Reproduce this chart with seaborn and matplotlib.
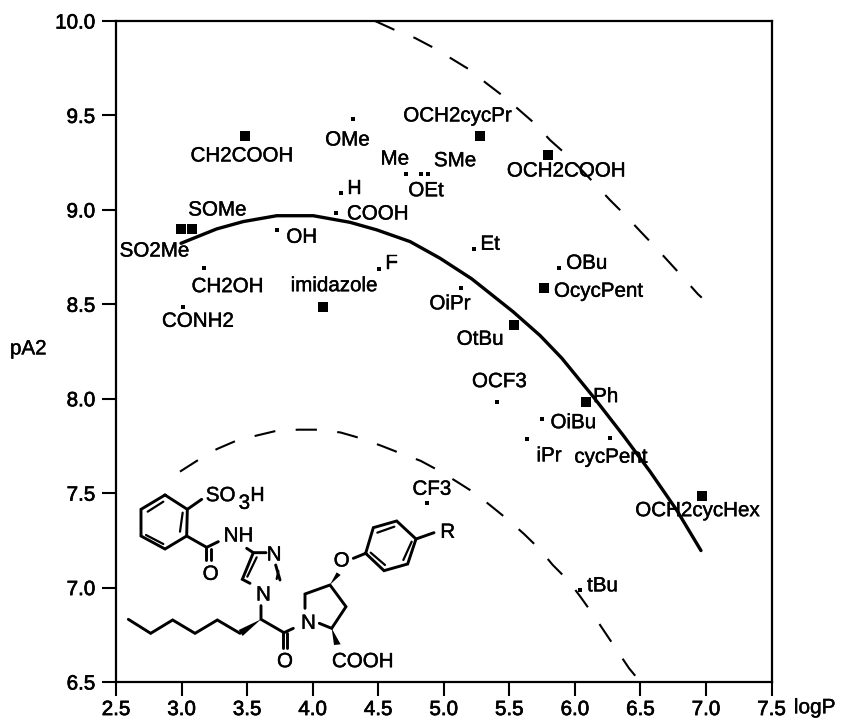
import pandas as pd
import matplotlib.pyplot as plt
import matplotlib.patheffects as pe
import seaborn as sns

# compounds drawn with the big squares
big_names = ['SO2Me', 'SOMe', 'CH2COOH', 'imidazole', 'OCH2cycPr', 'OCH2COOH',
             'OcycPent', 'OtBu', 'Ph', 'OCH2cycHex']
big_logp = [2.996, 3.077, 3.484, 4.08, 5.279, 5.798, 5.765, 5.536, 6.087, 6.967]
big_pa2 = [8.897, 8.897, 9.393, 8.484, 9.393, 9.292, 8.588, 8.392, 7.983, 7.485]

# compounds drawn with the small squares
small_names = ['OMe', 'H', 'COOH', 'Me', 'SMe', 'OEt', 'OH', 'CH2OH', 'CONH2', 'F',
               'Et', 'OBu', 'OiPr', 'OCF3', 'OiBu', 'iPr', 'cycPent', 'CF3', 'tBu']
small_logp = [4.31, 4.214, 4.178, 4.714, 4.826, 4.877, 3.728, 3.174, 3.011, 4.504,
              5.231, 5.879, 5.131, 5.406, 5.749, 5.635, 6.266, 4.875, 6.042]
small_pa2 = [9.481, 9.088, 8.985, 9.188, 9.188, 9.188, 8.895, 8.691, 8.484, 8.689,
             8.793, 8.692, 8.587, 7.983, 7.891, 7.789, 7.791, 7.448, 6.988]

# fit line and the two confidence curves
fit_logp = [2.996, 3.268, 3.471, 3.726, 4.005, 4.285, 4.489, 4.743, 4.971, 5.213, 5.53,
            5.734, 5.9, 6.141, 6.37, 6.573, 6.777, 6.962]
fit_pa2 = [8.823, 8.899, 8.938, 8.969, 8.969, 8.934, 8.894, 8.832, 8.744, 8.635, 8.46,
           8.335, 8.215, 8.01, 7.805, 7.615, 7.41, 7.196]
upper_logp = [4.476, 4.628, 4.781, 4.926, 5.063, 5.2, 5.322, 5.452, 5.582, 5.701, 5.81,
              5.93, 6.052, 6.159, 6.268, 6.388, 6.497, 6.611, 6.718, 6.827, 6.937, 6.968]
upper_pa2 = [10.0, 9.952, 9.91, 9.857, 9.799, 9.741, 9.672, 9.603, 9.525, 9.453, 9.37,
             9.296, 9.211, 9.133, 9.052, 8.969, 8.888, 8.805, 8.724, 8.641, 8.555, 8.535]
lower_logp = [2.988, 3.128, 3.268, 3.415, 3.573, 3.73, 3.891, 4.048, 4.214, 4.369, 4.527,
              4.674, 4.824, 4.966, 5.099, 5.238, 5.366, 5.492, 5.612, 5.729, 5.831, 5.95,
              6.047, 6.141, 6.413, 6.476, 6.497]
lower_pa2 = [7.614, 7.676, 7.733, 7.777, 7.805, 7.831, 7.836, 7.836, 7.821, 7.79, 7.75,
             7.71, 7.671, 7.618, 7.561, 7.5, 7.429, 7.358, 7.284, 7.205, 7.12, 7.037,
             6.947, 6.855, 6.573, 6.52, 6.5]

x_ticks = [2.5, 3.0, 3.5, 4.0, 4.5, 5.0, 5.5, 6.0, 6.5, 7.0, 7.5]
y_ticks = [6.5, 7.0, 7.5, 8.0, 8.5, 9.0, 9.5, 10.0]

# label offset from its square, in pixels
label_offset = {
    'SO2Me': (-26.7, -21.7), 'SOMe': (25.6, 19.3), 'CH2COOH': (-3.3, -20.3),
    'imidazole': (10.7, 21.6), 'OCH2cycPr': (-23, 19.7), 'OCH2COOH': (17.7, -16.3),
    'OcycPent': (54.3, -3.6), 'OtBu': (-34, -14.6), 'Ph': (19.4, 5.3),
    'OCH2cycHex': (-4.4, -14.7), 'OMe': (-6, -21), 'H': (13.6, 4.6),
    'COOH': (41.7, -1.3), 'Me': (-11.6, 15.3), 'SMe': (34, 13.6), 'OEt': (-1.7, -16.4),
    'OH': (24.7, -7.6), 'CH2OH': (23, -18.4), 'CONH2': (14.7, -14), 'F': (13, 5.4),
    'Et': (16, 4.7), 'OBu': (27.7, 4.7), 'OiPr': (-11, -16), 'OCF3': (2.3, 20.3),
    'OiBu': (31.3, -3.4), 'iPr': (22, -17.3), 'cycPent': (1, -19), 'CF3': (4.4, 13.7),
    'tBu': (22, 4),
}

sns.set_style('white')
plt.rcParams['font.family'] = ['Liberation Sans', 'DejaVu Sans']

big = pd.DataFrame({'name': big_names, 'logP': big_logp, 'pA2': big_pa2})
small = pd.DataFrame({'name': small_names, 'logP': small_logp, 'pA2': small_pa2})
fit = pd.DataFrame({'logP': fit_logp, 'pA2': fit_pa2})
upper = pd.DataFrame({'logP': upper_logp, 'pA2': upper_pa2})
lower = pd.DataFrame({'logP': lower_logp, 'pA2': lower_pa2})

ink = [pe.withStroke(linewidth=0.3, foreground='black')]

fig = plt.figure(figsize=(8.46, 7.21), dpi=100)
ax = fig.add_axes([116 / 846, 39 / 721, 655.5 / 846, 661 / 721])

sns.lineplot(data=fit, x='logP', y='pA2', ax=ax, color='black', lw=2.4, sort=False,
             estimator=None)
for curve in [upper, lower]:
    sns.lineplot(data=curve, x='logP', y='pA2', ax=ax, color='black', lw=1.5, sort=False,
                 estimator=None, linestyle=(0, (10.2, 9.8)))
sns.scatterplot(data=big, x='logP', y='pA2', ax=ax, marker='s', s=44, color='black',
                linewidth=0, zorder=3)
sns.scatterplot(data=small, x='logP', y='pA2', ax=ax, marker='s', s=10, color='black',
                linewidth=0, zorder=3)

for df in [big, small]:
    for _, row in df.iterrows():
        ax.annotate(row['name'], (row['logP'], row['pA2']), xytext=label_offset[row['name']],
                    textcoords='offset pixels', ha='center', va='center', fontsize=14.8,
                    color='black', path_effects=ink)

ax.set_xlim(2.5, 7.5)
ax.set_ylim(6.5, 10.0)
ax.set_xticks(x_ticks)
ax.set_xticklabels(['%.1f' % t for t in x_ticks])
ax.set_yticks(y_ticks)
ax.set_yticklabels(['%.1f' % t for t in y_ticks])
ax.tick_params(axis='both', direction='out', length=10, width=1.5, color='black',
               labelsize=14.8, labelcolor='black', left=True, bottom=True)
ax.tick_params(axis='x', pad=3)
ax.tick_params(axis='y', pad=5)
for lab in ax.get_xticklabels() + ax.get_yticklabels():
    lab.set_path_effects([pe.withStroke(linewidth=0.5, foreground='black')])
for side in ax.spines:
    ax.spines[side].set_visible(True)
    ax.spines[side].set_color('black')
    ax.spines[side].set_linewidth(1.6)

ax.set_xlabel('logP', fontsize=15, color='black', va='center', path_effects=ink)
ax.xaxis.set_label_coords(1.066, -0.039)
ax.set_ylabel('pA2', fontsize=14.8, color='black', rotation=0, ha='center', va='center',
              path_effects=ink)
ax.yaxis.set_label_coords(-0.134, 0.504)

# structure drawing, own little axes with 3 units per pixel
mol = fig.add_axes([110 / 846, (721 - 690) / 721, 380 / 846, 230 / 721])
mol.axis('off')
mol.patch.set_alpha(0)

bond_paths = [
    [(165, 105), (232, 148), (230, 228), (165, 267), (93, 228), (93, 148), (165, 105)],
    [(232, 148), (275, 118)],
    [(230, 228), (290, 262), (325, 245)],
    [(287, 262), (287, 300)],
    [(303, 268), (303, 300)],
    [(410, 265), (430, 278), (468, 278)],
    [(430, 278), (397, 358), (420, 370)],
    [(497, 315), (510, 360)],
    [(55, 478), (122, 520), (188, 480), (255, 520), (322, 480), (390, 520)],
    [(453, 437), (453, 478), (522, 518), (550, 505)],
    [(518, 518), (518, 565)],
    [(530, 520), (530, 565)],
    [(585, 445), (585, 402), (660, 375), (708, 440), (665, 505), (628, 490)],
    [(730, 295), (767, 280), (790, 203), (860, 183), (918, 237), (893, 312), (822, 332),
     (767, 280)],
    [(918, 237), (972, 218)],
]
inner_paths = [
    [(113, 155), (160, 125)],
    [(218, 158), (210, 215)],
    [(108, 225), (160, 252)],
    [(440, 292), (412, 350)],
    [(505, 333), (500, 357)],
    [(802, 218), (853, 200)],
    [(905, 245), (880, 300)],
    [(782, 278), (825, 315)],
]
wedges = [
    [(453, 478), (386, 510), (398, 528)],
    [(660, 374), (680, 337), (692, 345)],
    [(665, 505), (672, 555), (692, 553)],
]
atoms = [('SO', 332, 107), ('H', 442, 107), ('NH', 385, 228), ('O', 302, 343), ('N', 492, 285),
         ('N', 460, 405), ('O', 525, 605), ('N', 595, 490), ('COOH', 758, 605),
         ('O', 695, 303), ('R', 1013, 217), ('3', 403, 130)]

for path in bond_paths:
    mol.plot([p[0] for p in path], [p[1] for p in path], color='black', lw=2.1,
             solid_joinstyle='miter', solid_capstyle='round')
for path in inner_paths:
    mol.plot([p[0] for p in path], [p[1] for p in path], color='black', lw=1.6)
for tri in wedges:
    mol.fill([p[0] for p in tri], [p[1] for p in tri], color='black', lw=0)
for name, ax_x, ax_y in atoms:
    mol.text(ax_x, ax_y, name, ha='center', va='center', fontsize=14.8, color='black',
             path_effects=ink)
mol.set_xlim(0, 1140)
mol.set_ylim(690, 0)

fig.savefig('out.png', dpi=100)
